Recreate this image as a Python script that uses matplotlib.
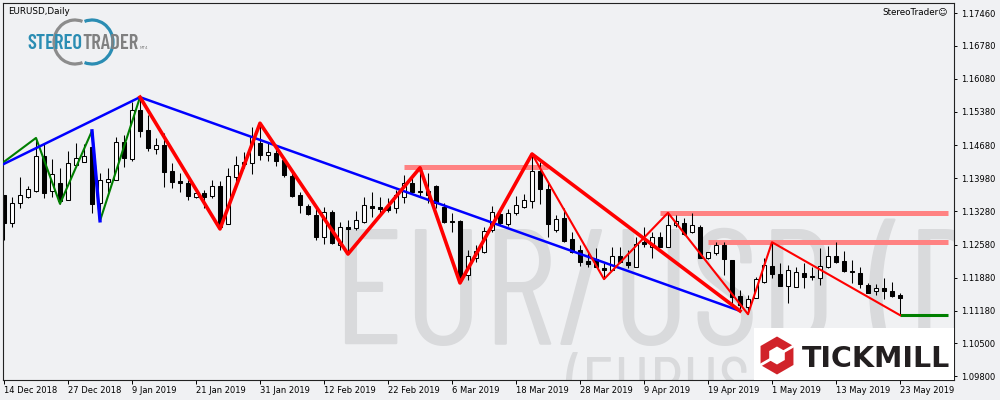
import matplotlib
matplotlib.use("Agg")
import matplotlib.pyplot as plt
import numpy as np
from matplotlib.patches import Rectangle, Arc, PathPatch
from matplotlib.textpath import TextPath
from matplotlib.font_manager import FontProperties
from matplotlib.transforms import Affine2D
from matplotlib.path import Path

# EURUSD daily bars, 14 Dec 2018 .. 23 May 2019
date_labels = ["14 Dec 2018", "27 Dec 2018", "9 Jan 2019", "21 Jan 2019", "31 Jan 2019",
               "12 Feb 2019", "22 Feb 2019", "6 Mar 2019", "18 Mar 2019", "28 Mar 2019",
               "9 Apr 2019", "19 Apr 2019", "1 May 2019", "13 May 2019", "23 May 2019"]

opens = [1.1363, 1.1303, 1.1346, 1.1358, 1.1371, 1.1445, 1.1371, 1.1388, 1.1352, 1.1426,
         1.1432, 1.1464, 1.1346, 1.1390, 1.1394, 1.1474, 1.1439, 1.1542, 1.1500, 1.1460,
         1.1468, 1.1413, 1.1392, 1.1388, 1.1358, 1.1367, 1.1360, 1.1382, 1.1301, 1.1401,
         1.1428, 1.1430, 1.1472, 1.1447, 1.1451, 1.1436, 1.1403, 1.1363, 1.1339, 1.1320,
         1.1274, 1.1327, 1.1257, 1.1295, 1.1293, 1.1306, 1.1339, 1.1337, 1.1339, 1.1335,
         1.1358, 1.1388, 1.1371, 1.1371, 1.1382, 1.1337, 1.1308, 1.1308, 1.1194, 1.1230,
         1.1242, 1.1289, 1.1322, 1.1301, 1.1325, 1.1337, 1.1350, 1.1413, 1.1375, 1.1289,
         1.1314, 1.1270, 1.1246, 1.1223, 1.1228, 1.1209, 1.1204, 1.1234, 1.1221, 1.1211,
         1.1263, 1.1253, 1.1274, 1.1253, 1.1299, 1.1303, 1.1284, 1.1295, 1.1230, 1.1240,
         1.1257, 1.1225, 1.1149, 1.1126, 1.1145, 1.1179, 1.1213, 1.1196, 1.1171, 1.1168,
         1.1198, 1.1190, 1.1187, 1.1211, 1.1234, 1.1223, 1.1202, 1.1198, 1.1173, 1.1160,
         1.1166, 1.1160, 1.1152]
highs = [1.1363, 1.1358, 1.1401, 1.1382, 1.1483, 1.1472, 1.1439, 1.1420, 1.1455, 1.1472,
         1.1470, 1.1498, 1.1409, 1.1420, 1.1485, 1.1489, 1.1559, 1.1569, 1.1531, 1.1483,
         1.1493, 1.1430, 1.1409, 1.1394, 1.1377, 1.1373, 1.1394, 1.1392, 1.1420, 1.1445,
         1.1453, 1.1506, 1.1514, 1.1472, 1.1462, 1.1443, 1.1409, 1.1369, 1.1344, 1.1337,
         1.1337, 1.1331, 1.1306, 1.1310, 1.1329, 1.1358, 1.1369, 1.1358, 1.1356, 1.1373,
         1.1405, 1.1401, 1.1420, 1.1409, 1.1384, 1.1346, 1.1325, 1.1310, 1.1246, 1.1257,
         1.1295, 1.1339, 1.1335, 1.1333, 1.1360, 1.1365, 1.1449, 1.1432, 1.1390, 1.1320,
         1.1335, 1.1284, 1.1257, 1.1242, 1.1251, 1.1219, 1.1253, 1.1253, 1.1246, 1.1274,
         1.1295, 1.1284, 1.1284, 1.1325, 1.1320, 1.1314, 1.1325, 1.1299, 1.1242, 1.1263,
         1.1263, 1.1225, 1.1162, 1.1152, 1.1190, 1.1230, 1.1263, 1.1219, 1.1215, 1.1211,
         1.1219, 1.1211, 1.1251, 1.1255, 1.1263, 1.1244, 1.1225, 1.1211, 1.1177, 1.1175,
         1.1187, 1.1179, 1.1156]
lows = [1.1268, 1.1295, 1.1335, 1.1356, 1.1369, 1.1356, 1.1358, 1.1344, 1.1352, 1.1422,
        1.1432, 1.1325, 1.1308, 1.1369, 1.1394, 1.1422, 1.1434, 1.1485, 1.1455, 1.1449,
        1.1379, 1.1377, 1.1369, 1.1352, 1.1356, 1.1335, 1.1356, 1.1291, 1.1301, 1.1388,
        1.1420, 1.1407, 1.1436, 1.1434, 1.1424, 1.1401, 1.1358, 1.1325, 1.1320, 1.1268,
        1.1259, 1.1259, 1.1246, 1.1238, 1.1289, 1.1303, 1.1316, 1.1325, 1.1327, 1.1325,
        1.1346, 1.1367, 1.1358, 1.1346, 1.1335, 1.1303, 1.1284, 1.1177, 1.1183, 1.1221,
        1.1240, 1.1284, 1.1299, 1.1297, 1.1320, 1.1335, 1.1335, 1.1344, 1.1274, 1.1284,
        1.1263, 1.1240, 1.1213, 1.1211, 1.1211, 1.1185, 1.1204, 1.1219, 1.1209, 1.1211,
        1.1253, 1.1230, 1.1253, 1.1253, 1.1295, 1.1278, 1.1282, 1.1230, 1.1228, 1.1236,
        1.1194, 1.1130, 1.1118, 1.1111, 1.1145, 1.1177, 1.1187, 1.1171, 1.1135, 1.1168,
        1.1166, 1.1183, 1.1173, 1.1209, 1.1219, 1.1200, 1.1177, 1.1166, 1.1156, 1.1152,
        1.1143, 1.1147, 1.1109]
closes = [1.1303, 1.1346, 1.1363, 1.1375, 1.1445, 1.1367, 1.1407, 1.1350, 1.1430, 1.1441,
          1.1445, 1.1344, 1.1394, 1.1396, 1.1474, 1.1441, 1.1542, 1.1498, 1.1462, 1.1468,
          1.1411, 1.1390, 1.1388, 1.1360, 1.1367, 1.1358, 1.1382, 1.1295, 1.1403, 1.1426,
          1.1432, 1.1485, 1.1447, 1.1453, 1.1434, 1.1405, 1.1360, 1.1341, 1.1322, 1.1274,
          1.1327, 1.1261, 1.1295, 1.1291, 1.1310, 1.1341, 1.1335, 1.1333, 1.1331, 1.1363,
          1.1388, 1.1369, 1.1369, 1.1363, 1.1346, 1.1306, 1.1306, 1.1183, 1.1234, 1.1244,
          1.1287, 1.1327, 1.1303, 1.1325, 1.1341, 1.1352, 1.1413, 1.1375, 1.1301, 1.1312,
          1.1265, 1.1242, 1.1221, 1.1217, 1.1211, 1.1204, 1.1234, 1.1221, 1.1215, 1.1259,
          1.1259, 1.1274, 1.1253, 1.1299, 1.1308, 1.1280, 1.1299, 1.1230, 1.1242, 1.1257,
          1.1228, 1.1147, 1.1130, 1.1143, 1.1185, 1.1215, 1.1196, 1.1171, 1.1204, 1.1200,
          1.1190, 1.1192, 1.1213, 1.1234, 1.1221, 1.1202, 1.1200, 1.1175, 1.1156, 1.1166,
          1.1160, 1.1149, 1.1145]

price_ticks = [1.17460, 1.16780, 1.16080, 1.15380, 1.14680, 1.13980, 1.13280,
               1.12580, 1.11880, 1.11180, 1.10500, 1.09800]

# zigzag pivots (bar index, high/low); the first swing starts one bar before the window
pre_window_low = 1.1420
thick_red = [(17, "H"), (27, "L"), (32, "H"), (43, "L"), (52, "H"), (57, "L"), (66, "H"), (92, "L")]
thin_red = [(66, "H"), (75, "L"), (83, "H"), (93, "L"), (96, "H"), (112, "L")]
blue_piv = [(17, "H"), (92, "L")]
blue_short = [(11, "H"), (12, "L")]
green_piv = [(4, "H"), (7, "L"), (11, "H"), (12, "L"), (17, "H")]
# horizontal levels: start bar, end bar, price
res_levels = [(50, 68, 1.1421), (82, 118, 1.1325), (88, 118, 1.1263)]
sup_level = (112, 118, 1.1109)

bg = "#f0f1f3"
fig = plt.figure(figsize=(10, 4), dpi=100, facecolor=bg)
ax = fig.add_axes([0.003, 0.05, 0.951, 0.9425], facecolor=bg)

# pixel helpers (image coords, y from top)
pix = Affine2D().scale(1 / 1000, -1 / 400).translate(0, 1) + fig.transFigure

def ink(text, prop):
    return TextPath((0, 0), text, size=1, prop=prop).get_extents()

def fitted_text(holder, text, prop, left, base, size_px, **kw):
    # put the ink of the first glyph at `left`, baseline at `base` (pixels)
    e = ink(text, prop)
    x0 = left - e.x0 * size_px
    return holder.text(x0, base, text, fontproperties=prop, fontsize=size_px * 0.72,
                       transform=pix, ha="left", va="baseline", **kw)

# watermark (condensed face, clipped to the chart area)
wm = FontProperties(family="Barlow Condensed", weight="normal")
cap = ink("E", wm).height
fitted_text(ax, "EUR/USD (D1)", wm, 345, 345, 116 / cap, color="#d9dadc", clip_on=True, zorder=0)
w2 = ink("(EURUS", wm).width
s2 = 182 / w2
fitted_text(ax, "(EURUSD)", wm, 565, 357 + cap * s2, s2, color="#d9dadc", clip_on=True, zorder=0)

o = np.array(opens); h = np.array(highs); l = np.array(lows); c = np.array(closes)
x = np.arange(len(o))
up = c >= o
ax.vlines(x, l, h, color="black", lw=0.75, zorder=2)
body = np.maximum(np.abs(c - o), 0.00004)
ax.bar(x, body, bottom=np.minimum(o, c), width=0.62, color=np.where(up, "white", "black"),
       edgecolor="black", linewidth=0.75, zorder=2.1)

def piv_xy(piv):
    xs = [i for i, k in piv]
    ys = [highs[i] if k == "H" else lows[i] for i, k in piv]
    return xs, ys

for s, e, lev in res_levels:
    ax.plot([s, e], [lev, lev], color="#ff8282", lw=3.6, solid_capstyle="butt", zorder=1.5)
ax.plot([sup_level[0], sup_level[1]], [sup_level[2]] * 2, color="#008000", lw=2.2,
        solid_capstyle="butt", zorder=3)

gx, gy = piv_xy(green_piv)
ax.plot([-1] + gx, [pre_window_low] + gy, color="#007f00", lw=1.5, zorder=3)
bx, by = piv_xy(blue_piv)
ax.plot([-1] + bx, [pre_window_low] + by, color="#0000ff", lw=1.8, zorder=3.2)
bx, by = piv_xy(blue_short)
ax.plot(bx, by, color="#0000ff", lw=2.4, zorder=3.2)
rx, ry = piv_xy(thick_red)
ax.plot(rx, ry, color="#ff0000", lw=2.6, zorder=3.4)
rx, ry = piv_xy(thin_red)
ax.plot(rx, ry, color="#ff0000", lw=1.5, zorder=3.4)

ax.set_xlim(-0.125, 118.75)
ax.set_ylim(1.09722, 1.17677)

ax.yaxis.tick_right()
ax.set_yticks(price_ticks)
ax.set_yticklabels(["%.5f" % v for v in price_ticks])
ax.set_xticks(np.arange(0, 8 * len(date_labels), 8))
ax.set_xticklabels(date_labels)
for t in ax.get_xticklabels():
    t.set_ha("left")
ax.tick_params(axis="y", direction="out", length=2.5, width=0.7, labelsize=6, pad=2.5, colors="black")
ax.tick_params(axis="x", direction="out", length=3, width=0.7, labelsize=6, pad=1.5, colors="black")
for sp in ax.spines.values():
    sp.set_color("#222222")
    sp.set_linewidth(0.8)

# captions
fig.text(8 / 1000, 1 - 11 / 400, "EURUSD,Daily", fontsize=6.3, va="center", ha="left")
fig.text(948 / 1000, 1 - 12 / 400, "StereoTrader\u263a", fontsize=6.3, va="center", ha="right")

# StereoTrader logo
fig.add_artist(Arc((75, 42), 42, 44, theta1=70, theta2=290, transform=pix,
                   color="#8c8c8c", lw=2.3))
fig.add_artist(Arc((92, 42), 42, 44, theta1=-110, theta2=110, transform=pix,
                   color="#2b8db3", lw=2.3))
lg = FontProperties(family="Barlow Condensed", weight=600)
full = ink("STEREOTRADER", lg)
ls = 110 / full.width
adv = (full.x1 - ink("TRADER", lg).x1) * ls
t1 = fitted_text(fig, "STEREO", lg, 28, 49, ls, color="#2b8db3")
fig.text(t1.get_position()[0] + adv, 49, "TRADER", fontproperties=lg, fontsize=ls * 0.72,
         transform=pix, ha="left", va="baseline", color="#808080")
fig.text(140, 49, "MT4", fontsize=3, color="#808080", va="baseline", transform=pix)

# Tickmill box
ax.add_patch(Rectangle((754, 328), 200, 52, transform=pix,
                       facecolor="white", edgecolor="none", zorder=5))
cx, cy = 777, 355.5
ang = np.radians(90 + 60 * np.arange(6))
outer = np.c_[cx + 19 * np.cos(ang), cy - 19 * np.sin(ang)]
inner = np.c_[cx + 9 * np.cos(ang), cy - 9 * np.sin(ang)][::-1]
verts = np.vstack([outer, outer[:1], inner, inner[:1]])
codes = ([Path.MOVETO] + [Path.LINETO] * 5 + [Path.CLOSEPOLY]) * 2
fig.add_artist(PathPatch(Path(verts, codes), transform=pix, facecolor="#d1232a",
                         edgecolor="none", zorder=6))
a = np.radians(30)
for sgn in (1, -1):
    fig.add_artist(plt.Line2D([cx + sgn * 7 * np.cos(a), cx + sgn * 22 * np.cos(a)],
                              [cy - sgn * 7 * np.sin(a), cy - sgn * 22 * np.sin(a)],
                              transform=pix, color="white", lw=2.0, zorder=7))
fig.text(802 / 1000, 1 - 367 / 400, "TICKMILL", fontsize=20.5, fontweight="bold",
         color="#231f20", va="baseline", ha="left", zorder=8)

fig.savefig("out.png", dpi=100, facecolor=bg)
